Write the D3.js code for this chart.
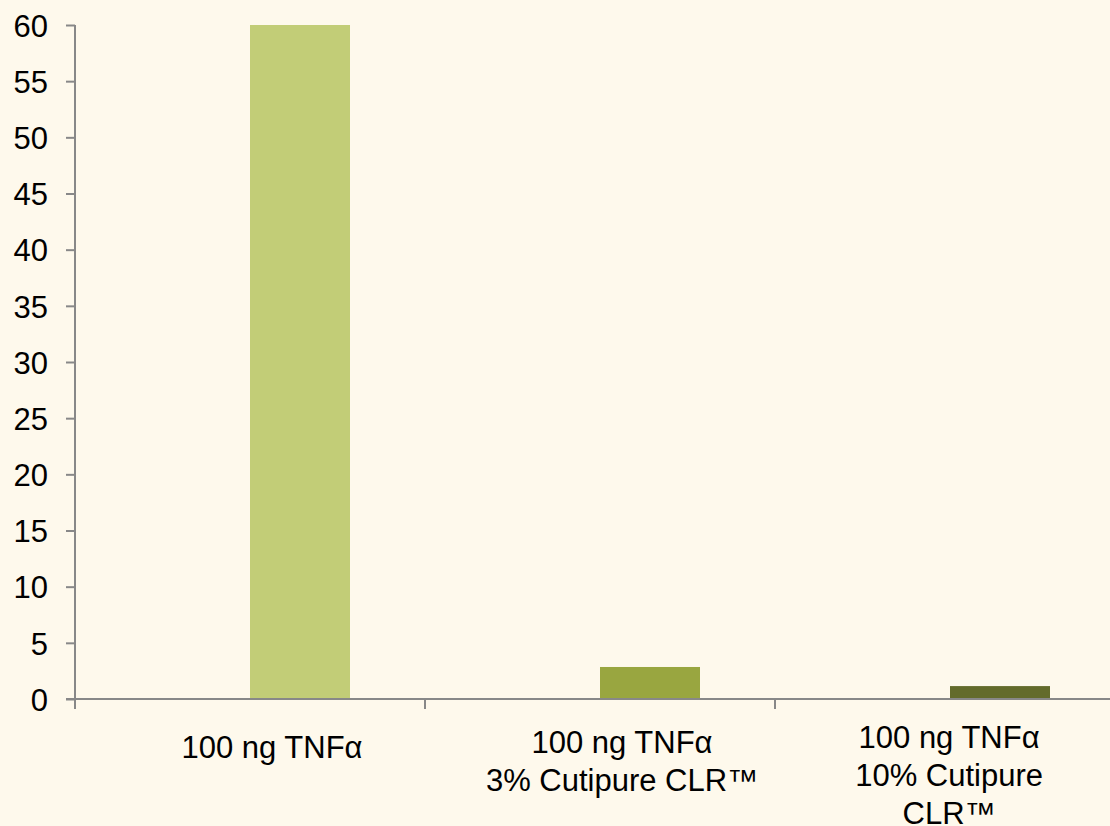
<!DOCTYPE html>
<html>
<head>
<meta charset="utf-8">
<script src="https://cdn.jsdelivr.net/npm/d3@7"></script>
<style>
  html, body { margin: 0; padding: 0; background: #FEF9EC; }
  svg { display: block; }
</style>
</head>
<body>
<svg id="chart" width="1110" height="826"></svg>
<script>
// ---- data ----
const categories = [
  ["100 ng TNFα"],
  ["100 ng TNFα", "3% Cutipure CLR™"],
  ["100 ng TNFα", "10% Cutipure", "CLR™"]
];
const values = [60, 2.85, 1.15];
const barColors = ["#C2CD77", "#99A640", "#636B2B"];
const yTicks = [0, 5, 10, 15, 20, 25, 30, 35, 40, 45, 50, 55, 60];

// ---- layout ----
const W = 1110, H = 826;
const mLeft = 75, mTop = 25, mBottom = 699;
const axisColor = "#888888";
const fontFamily = "'Liberation Sans', Arial, sans-serif";
const fontSize = 31;

const svg = d3.select("#chart");
svg.append("rect").attr("width", W).attr("height", H).attr("fill", "#FEF9EC");

const keys = categories.map((c, i) => "c" + i);
const x = d3.scaleBand().domain(keys).range([mLeft, mLeft + 350 * keys.length]).padding(0);
const y = d3.scaleLinear().domain([0, 60]).range([mBottom, mTop]);

// bars
svg.append("g").selectAll("rect").data(values).join("rect")
  .attr("x", (d, i) => x(keys[i]) + x.bandwidth() / 2)
  .attr("width", x.bandwidth() * 2 / 7)
  .attr("y", d => y(d))
  .attr("height", d => y(0) - y(d))
  .attr("fill", (d, i) => barColors[i]);

// y axis
const yAxis = d3.axisLeft(y).tickValues(yTicks).tickSize(9).tickPadding(18);
const gy = svg.append("g").attr("transform", `translate(${mLeft},0)`).call(yAxis);
gy.select(".domain").remove();
gy.append("line").attr("x1", 0).attr("x2", 0).attr("y1", mTop).attr("y2", mBottom + 10)
  .attr("stroke", axisColor).attr("stroke-width", 2);
gy.selectAll(".tick line").attr("stroke", axisColor).attr("stroke-width", 2);
gy.selectAll(".tick text").attr("fill", "#000").attr("font-family", fontFamily)
  .attr("font-size", fontSize).attr("dy", "0.36em");

// x axis
svg.append("line").attr("x1", mLeft - 9).attr("x2", W).attr("y1", mBottom).attr("y2", mBottom)
  .attr("stroke", axisColor).attr("stroke-width", 2);
const xTickPos = keys.map(k => x(k)).concat([x(keys[keys.length - 1]) + x.bandwidth()]);
svg.append("g").selectAll("line").data(xTickPos.slice(1)).join("line")
  .attr("x1", d => d).attr("x2", d => d).attr("y1", mBottom).attr("y2", mBottom + 10)
  .attr("stroke", axisColor).attr("stroke-width", 2);

// category labels
const labelG = svg.append("g");
categories.forEach((lines, i) => {
  const t = labelG.append("text")
    .attr("font-family", fontFamily).attr("font-size", fontSize)
    .attr("fill", "#000").attr("text-anchor", "middle");
  const y0 = 758 - (lines.length - 1) * 5;
  lines.forEach((ln, j) => {
    t.append("tspan").attr("x", 0).attr("y", y0 + j * 38).text(ln);
  });
  const maxW = d3.max(t.selectAll("tspan").nodes(), n => n.getComputedTextLength());
  let cx = x(keys[i]) + x.bandwidth() / 2 + 22;
  if (cx + maxW / 2 > 1043) cx = 1043 - maxW / 2;
  t.selectAll("tspan").attr("x", cx);
});
</script>
</body>
</html>
